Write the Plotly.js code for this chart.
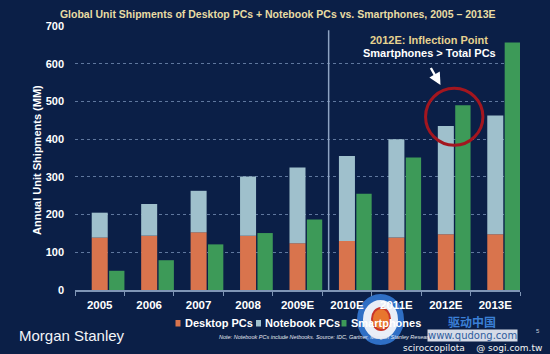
<!DOCTYPE html>
<html>
<head>
<meta charset="utf-8">
<script src="https://cdn.plot.ly/plotly-3.0.1.min.js"></script>
<style>
html,body{margin:0;padding:0;background:#0b1f47;}
#chart{width:550px;height:354px;}
</style>
</head>
<body>
<div id="chart"></div>
<script>
// ---- data ----
var years = ["2005", "2006", "2007", "2008", "2009E", "2010E", "2011E", "2012E", "2013E"];
var desktopPCs = [139, 144, 153, 144, 124, 130, 139, 148, 148];
var notebookPCs = [66, 84, 110, 157, 201, 225, 261, 287, 315];
var smartphones = [51, 79, 121, 151, 187, 255, 351, 490, 656];
var yTicks = [0, 100, 200, 300, 400, 500, 600, 700];
var seriesNames = ["Desktop PCs", "Notebook PCs", "Smartphones"];

// ---- style ----
var FONT = "Liberation Sans, Arial, sans-serif";
var BG = "#0b1f47";
var C_DESK = "#d9744d";
var C_NOTE = "#9fc0cc";
var C_SMART = "#3d9a58";

// plot area in pixels: x 75..520, y 26..290
var PL = 75, PR = 520, PT = 26, PB = 290;
function px(x) { return (x - PL) / (PR - PL); }
function py(y) { return (PB - y) / (PB - PT); }

var traces = [
  {type: "bar", name: seriesNames[0], x: years, y: desktopPCs,
   marker: {color: C_DESK}, width: 0.324, offset: -0.162, showlegend: false},
  {type: "bar", name: seriesNames[1], x: years, y: notebookPCs, base: desktopPCs,
   marker: {color: C_NOTE}, width: 0.324, offset: -0.162, showlegend: false},
  {type: "bar", name: seriesNames[2], x: years, y: smartphones,
   marker: {color: C_SMART}, width: 0.31, offset: 0.19, showlegend: false}
];

var ann = [];
// y-axis title
ann.push({xref: "paper", yref: "paper", x: px(37), y: py(160), text: "Annual Unit Shipments (MM)",
  textangle: -90, showarrow: false, font: {family: FONT, size: 11, color: "#ffffff", weight: "bold"},
  xanchor: "center", yanchor: "middle"});
// inflection point text
ann.push({xref: "paper", yref: "paper", x: px(429), y: py(40), text: "2012E: Inflection Point",
  showarrow: false, font: {family: FONT, size: 11, color: "#e6d28f", weight: "bold"}, xanchor: "center", yanchor: "middle"});
ann.push({xref: "paper", yref: "paper", x: px(429), y: py(53.5), text: "Smartphones > Total PCs",
  showarrow: false, font: {family: FONT, size: 11, color: "#ffffff", weight: "bold"}, xanchor: "center", yanchor: "middle"});
// arrow
ann.push({xref: "paper", yref: "paper", x: px(440.5), y: py(85), ax: -10.5, ay: -18.5, text: "",
  showarrow: true, arrowhead: 2, arrowsize: 1, arrowwidth: 2.4, arrowcolor: "#ffffff"});
// legend texts
var legX = [183, 262.5, 348.5];
for (var i = 0; i < 3; i++) {
  ann.push({xref: "paper", yref: "paper", x: px(legX[i]), y: py(322.5), text: seriesNames[i],
    showarrow: false, xanchor: "left", yanchor: "middle",
    font: {family: FONT, size: 11, color: "#ffffff", weight: "bold"}});
}
// note
ann.push({xref: "paper", yref: "paper", x: px(217), y: py(336.5),
  text: "<i>Note: Notebook PCs include Netbooks. Source: IDC, Gartner, Morgan Stanley Research.</i>",
  showarrow: false, xanchor: "left", yanchor: "middle", font: {family: FONT, size: 5.5, color: "#e6e9f0"}});
// Morgan Stanley
ann.push({xref: "paper", yref: "paper", x: px(17), y: py(335), text: "Morgan Stanley",
  showarrow: false, xanchor: "left", yanchor: "middle", font: {family: FONT, size: 15, color: "#f2f4f8"}});
// page number
ann.push({xref: "paper", yref: "paper", x: px(538), y: py(331), text: "5",
  showarrow: false, xanchor: "center", yanchor: "middle", font: {family: FONT, size: 6, color: "#c8d0dc"}});
// watermark texts
ann.push({xref: "paper", yref: "paper", x: px(472), y: py(321), text: "<b>驱动中国</b>",
  showarrow: false, xanchor: "center", yanchor: "middle",
  font: {family: "Noto Sans CJK SC, sans-serif", size: 12, color: "#3b7fd6"}});
ann.push({xref: "paper", yref: "paper", x: px(472), y: py(335.5), text: "www.qudong.com",
  showarrow: false, xanchor: "center", yanchor: "middle", bgcolor: "rgba(235,240,248,0.9)", borderpad: 0,
  font: {family: "DejaVu Sans, sans-serif", size: 10, color: "#2f5d9e"}});
ann.push({xref: "paper", yref: "paper", x: px(544), y: py(348), text: "sciroccopilota  &nbsp; @ sogi.com.tw",
  showarrow: false, xanchor: "right", yanchor: "middle",
  font: {family: "DejaVu Sans, sans-serif", size: 9, color: "#f4f4f4"}});

var shapes = [];
// vertical separator
shapes.push({type: "line", xref: "x", yref: "y", x0: 4.63, x1: 4.63, y0: 0, y1: 689,
  line: {color: "#8ea3c2", width: 1.5}});
// red circle
shapes.push({type: "circle", xref: "x", yref: "y", x0: 6.59, x1: 7.75, y0: 384, y1: 535,
  line: {color: "#a3161f", width: 3}});
// legend squares
var legColors = [C_DESK, C_NOTE, C_SMART];
var legSq = [175.5, 256, 341.5];
for (var j = 0; j < 3; j++) {
  shapes.push({type: "rect", xref: "paper", yref: "paper", x0: px(legSq[j]), x1: px(legSq[j] + 5),
    y0: py(326.5), y1: py(320), fillcolor: legColors[j], line: {width: 0}});
}
// watermark logo (kept beneath texts)
shapes.push({type: "circle", xref: "paper", yref: "paper", x0: px(360), x1: px(401), y0: py(342), y1: py(297),
  fillcolor: "#e9eef7", line: {color: "#2f6fc5", width: 6}, layer: "below"});
shapes.push({type: "circle", xref: "paper", yref: "paper", x0: px(372), x1: px(390), y0: py(330), y1: py(308),
  fillcolor: "#e8762e", line: {color: "#c8352a", width: 2}, layer: "below"});

var layout = {
  width: 550, height: 354,
  paper_bgcolor: BG, plot_bgcolor: BG,
  margin: {l: PL, r: 550 - PR, t: PT, b: 354 - PB, pad: 0},
  barmode: "overlay",
  showlegend: false,
  font: {family: FONT, color: "#ffffff"},
  title: {text: "Global Unit Shipments of Desktop PCs + Notebook PCs vs. Smartphones, 2005 – 2013E",
    x: 0.505, xanchor: "center", y: 1 - 14 / 354, yanchor: "middle",
    font: {family: FONT, size: 10.5, color: "#e8dca4", weight: "bold"}},
  xaxis: {type: "category", range: [-0.5, 8.5], showgrid: false, zeroline: false,
    showline: true, linecolor: "#7f95b5", linewidth: 2,
    ticks: "outside", tickson: "boundaries", ticklen: 4, tickcolor: "#7f95b5", tickwidth: 1,
    tickfont: {family: FONT, size: 11.5, color: "#ffffff", weight: "bold"}, ticklabelstandoff: 3},
  yaxis: {range: [0, 700], tickvals: yTicks, showgrid: true, gridcolor: "#5f779e", griddash: "dot", gridwidth: 1,
    zeroline: false, showline: false, ticks: "",
    tickfont: {family: FONT, size: 11, color: "#ffffff", weight: "bold"}, ticklabelstandoff: 10},
  annotations: ann,
  shapes: shapes
};

Plotly.newPlot("chart", traces, layout, {displayModeBar: false, staticPlot: true});
</script>
</body>
</html>
